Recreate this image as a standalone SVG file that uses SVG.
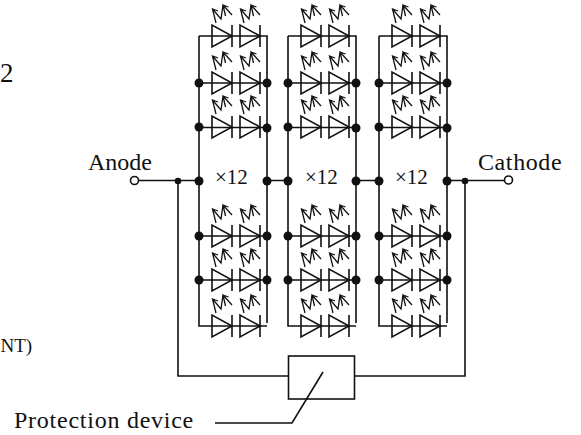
<svg xmlns="http://www.w3.org/2000/svg" width="581" height="435" viewBox="0 0 581 435">
<style>
.w{fill:none;stroke:#111;stroke-width:1.6}
.a{fill:none;stroke:#111;stroke-width:1.3}
.t{font-family:"Liberation Serif",serif;fill:#111;font-size:24px}
.m{font-size:21px}
.d{fill:#111}
.o{fill:#fff;stroke:#111;stroke-width:1.6}
</style>
<defs>
<g id="led"><path class="w" d="M-20-11V11L0 0ZM0-11V11"/>
<path class="a" d="M-16-13L-19.500-27L-14-25M-19.500-27L-11-17L-9-31L0-21M-9-31L-3.500-29M-9-31L-6.500-20"/></g>
<g id="cell"><use href="#led" x="232"/><use href="#led" x="260"/></g>
<g id="col"><use href="#cell" y="36"/><use href="#cell" y="83"/><use href="#cell" y="127"/><use href="#cell" y="236"/><use href="#cell" y="280"/><use href="#cell" y="326"/></g>
<g id="frame" class="w"><path d="M199 36H267V323M199 36V326H267M199 83H267M199 127.500H267M199 236H267M199 280H267"/></g>
<g id="dots" class="d"><circle cx="199" cy="83" r="4.500"/><circle cx="267" cy="83" r="4.500"/><circle cx="199" cy="127" r="4.500"/><circle cx="267" cy="128" r="4.500"/><circle cx="199" cy="181" r="4.500"/><circle cx="267" cy="181" r="4.500"/><circle cx="199" cy="236" r="4.500"/><circle cx="267" cy="236" r="4.500"/><circle cx="199" cy="280" r="4.500"/><circle cx="267" cy="280" r="4.500"/></g>
</defs>
<g id="connectors" class="w">
<use href="#frame"/><use href="#frame" x="89"/><use href="#frame" x="180"/>
<path d="M138 180.500H199M267 180.500H288M356 180.500H379M447 180.500H504"/>
<path d="M178 181V376H288M465 181V376H354"/>
</g>
<g id="col1"><use href="#col"/><use href="#dots"/></g>
<g id="col2"><use href="#col" x="89"/><use href="#dots" x="89"/></g>
<g id="col3"><use href="#col" x="180"/><use href="#dots" x="180"/></g>
<g id="junctions" class="d"><circle cx="178" cy="181" r="3.300"/><circle cx="465" cy="181" r="3.300"/></g>
<g id="anode"><circle class="o" cx="134.500" cy="180.500" r="4"/><text class="t" x="88" y="170">Anode</text></g>
<g id="cathode"><circle class="o" cx="508.500" cy="180" r="4"/><text class="t" x="478" y="170" letter-spacing="0.6">Cathode</text></g>
<g id="x1"><text class="t m" x="215" y="184">×12</text></g>
<g id="x2"><text class="t m" x="305" y="184">×12</text></g>
<g id="x3"><text class="t m" x="395" y="184">×12</text></g>
<g id="protection"><rect class="w" x="288.500" y="356" width="66" height="43"/><path class="w" d="M323 372L292 423H215"/><text class="t" x="14" y="428" letter-spacing="0.75">Protection device</text></g>
<text class="t" x="0" y="82" style="font-size:27px">2</text>
<text class="t" x="0.500" y="352" style="font-size:19px">NT)</text>
</svg>
